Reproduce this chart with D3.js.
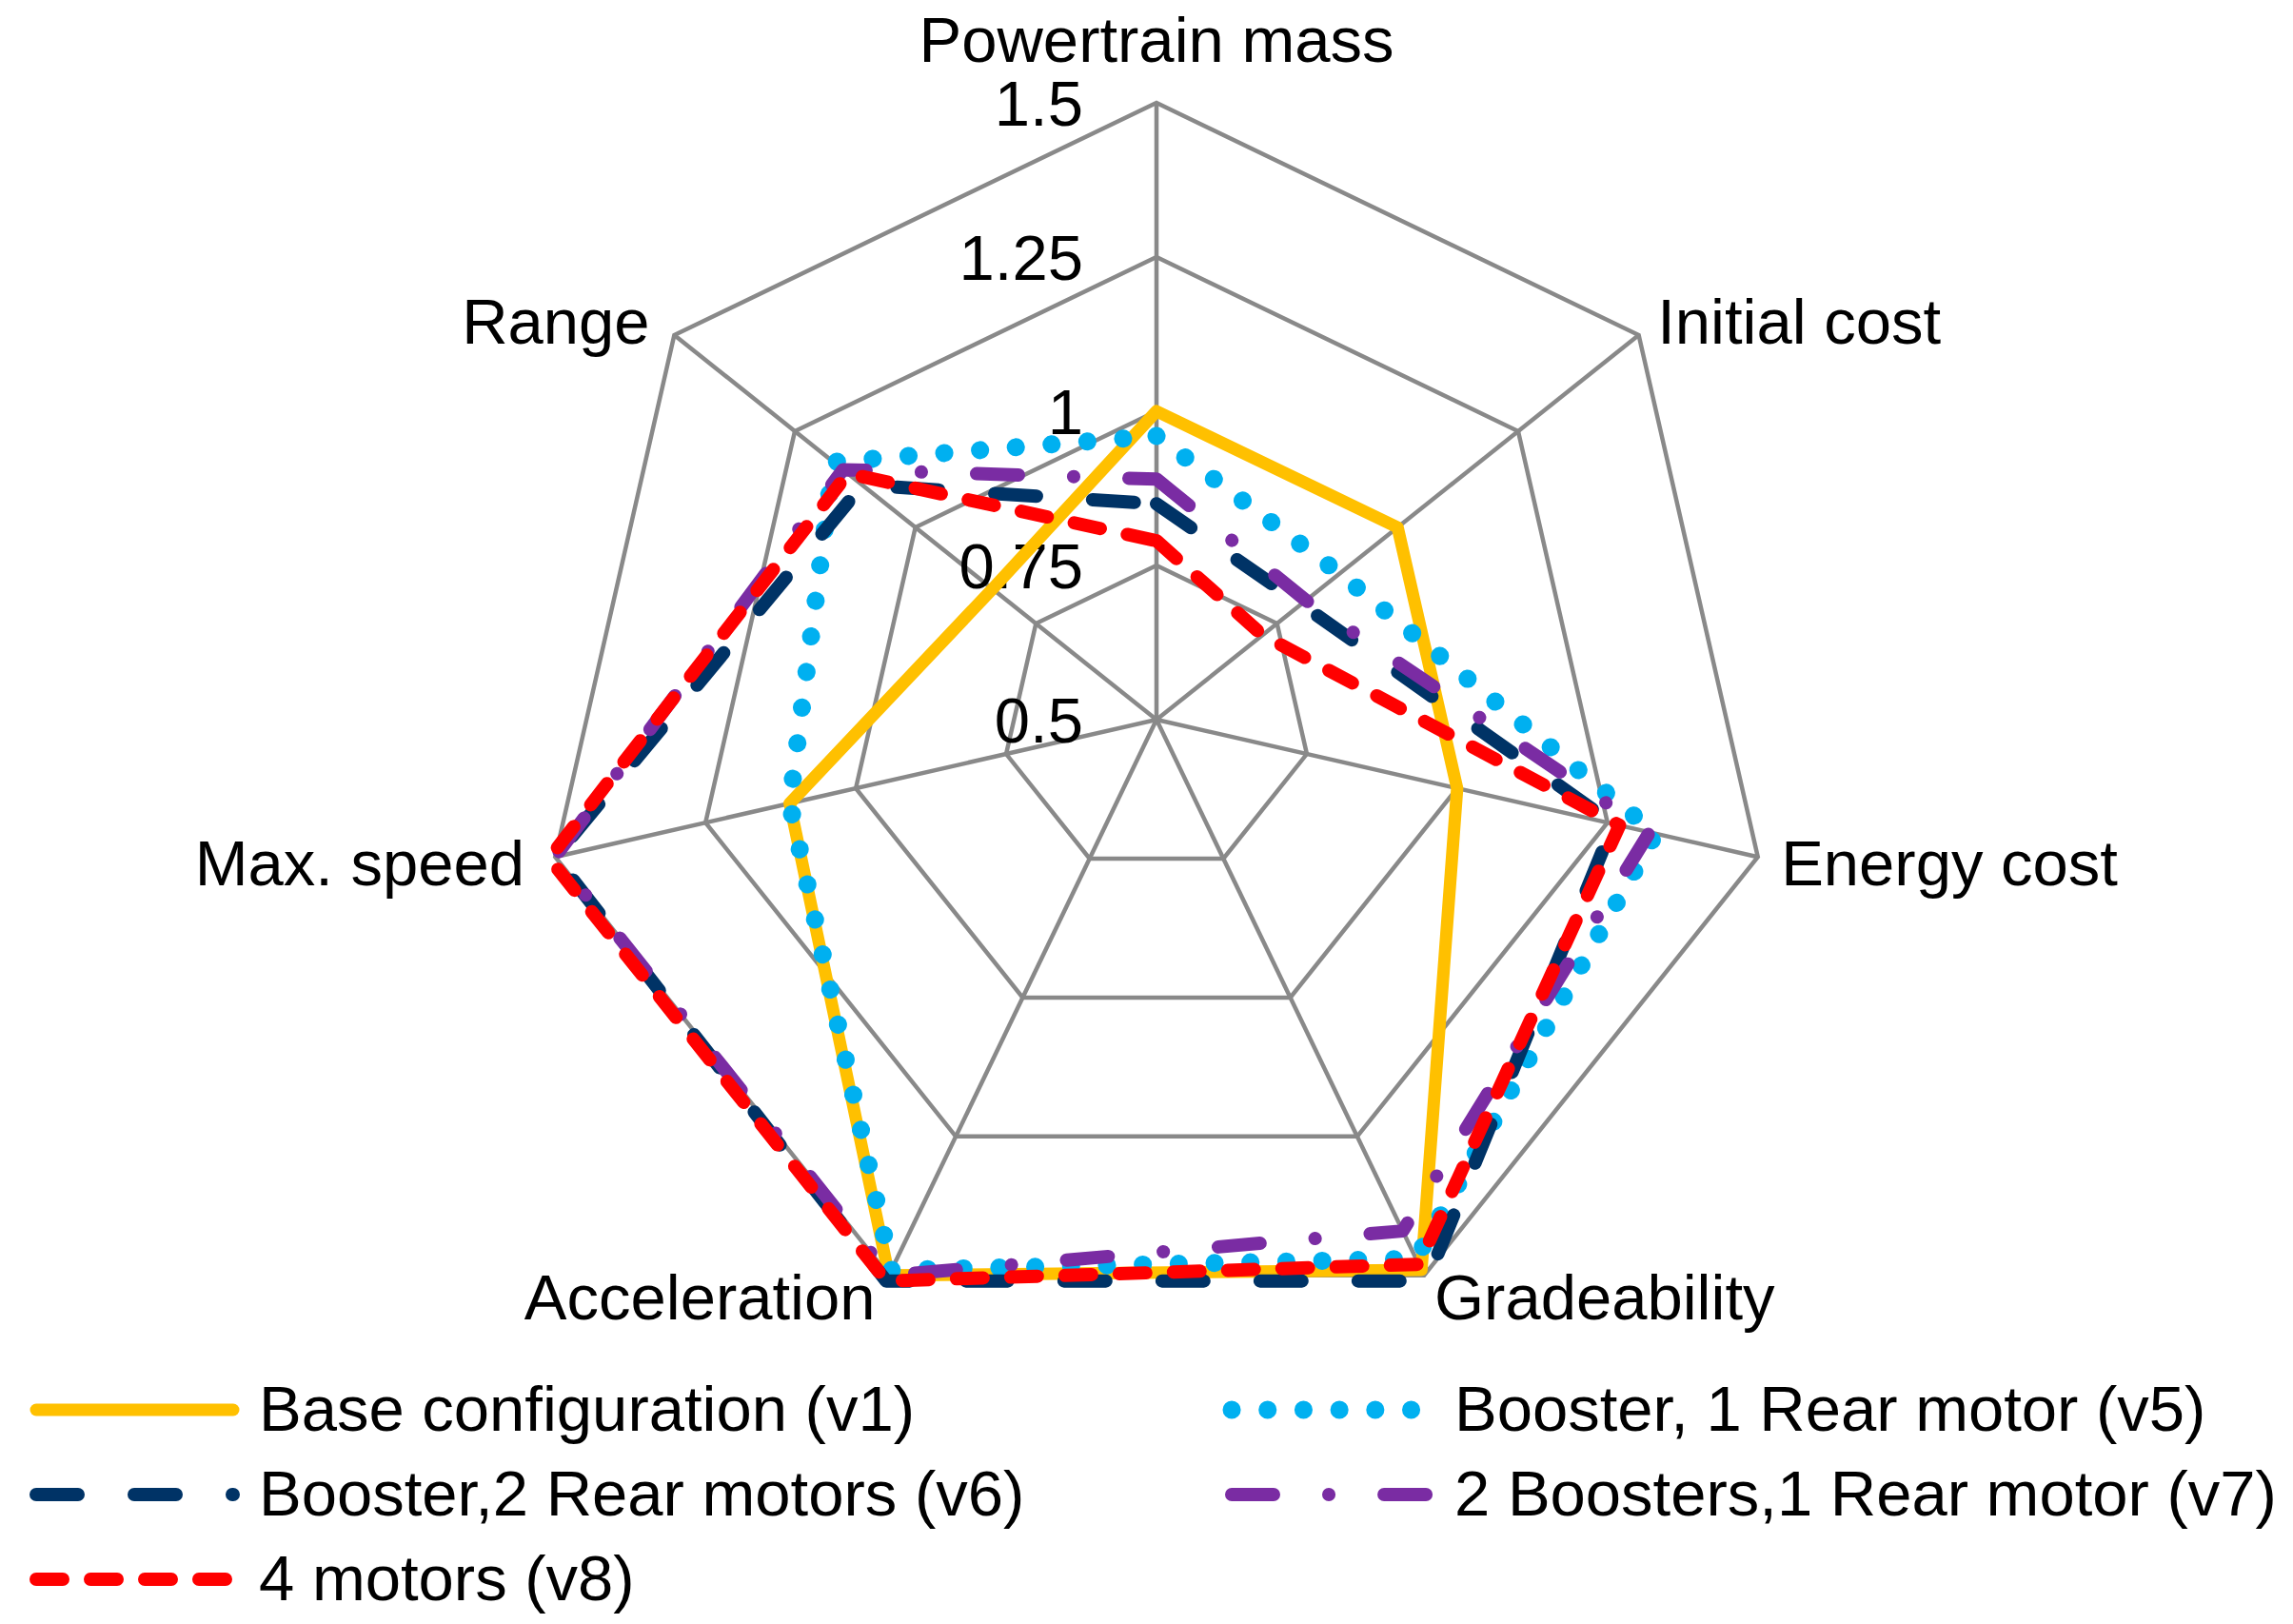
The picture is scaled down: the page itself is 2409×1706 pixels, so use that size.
<!DOCTYPE html>
<html>
<head>
<meta charset="utf-8">
<script src="https://cdn.jsdelivr.net/npm/d3@7"></script>
<style>
  body { margin: 0; background: #fff; }
  text { font-family: "Liberation Sans", Arial, sans-serif; fill: #000; }
</style>
</head>
<body>
<div id="chart"></div>
<script>
// axes of the radar, clockwise from the top
var axes = ["Powertrain mass", "Initial cost", "Energy cost", "Gradeability", "Acceleration", "Max. speed", "Range"];
var ticks = [0.5, 0.75, 1, 1.25, 1.5];

var seriesNames = ["Base configuration (v1)", "Booster, 1 Rear motor (v5)", "Booster,2 Rear motors (v6)", "2 Boosters,1 Rear motor (v7)", "4 motors (v8)"];
var v1 = [1.0, 1.0, 1.0, 1.49, 1.5, 1.11, 0.84];
var v5 = [0.96, 0.88, 1.33, 1.47, 1.49, 1.11, 1.17];
var v6 = [0.85, 0.80, 1.26, 1.51, 1.51, 1.5, 1.11];
var v7 = [0.89, 0.81, 1.32, 1.42, 1.5, 1.5, 1.15];
var v8 = [0.79, 0.72, 1.27, 1.48, 1.51, 1.51, 1.14];

var svgWidth = 2409;
var svgHeight = 1706;
var cx = 1215, cy = 756, outerR = 648;

var svg = d3.select("#chart")
    .append("svg")
    .attr("width", svgWidth)
    .attr("height", svgHeight);

svg.append("rect").attr("width", svgWidth).attr("height", svgHeight).attr("fill", "#fff");

var rScale = d3.scaleLinear().domain([0.5, 1.5]).range([0, outerR]);
var step = 2 * Math.PI / axes.length;

var chartGroup = svg.append("g")
    .attr("transform", `translate(${cx}, ${cy})`);

var radial = d3.lineRadial()
    .angle(function (d, i) { return i * step; })
    .radius(function (d) { return rScale(d); })
    .curve(d3.curveLinearClosed);

// grid rings
ticks.slice(1).forEach(function (t) {
    chartGroup.append("path")
        .attr("d", radial(axes.map(function () { return t; })))
        .attr("fill", "none")
        .attr("stroke", "#898989")
        .attr("stroke-width", 4.5);
});

// spokes
chartGroup.selectAll(".spoke")
    .data(axes)
    .enter()
    .append("line")
    .attr("x1", 0).attr("y1", 0)
    .attr("x2", function (d, i) { return rScale(1.5) * Math.sin(i * step); })
    .attr("y2", function (d, i) { return -rScale(1.5) * Math.cos(i * step); })
    .attr("stroke", "#898989")
    .attr("stroke-width", 4.5);

// tick labels
chartGroup.selectAll(".tick")
    .data(ticks)
    .enter()
    .append("text")
    .attr("x", -77)
    .attr("y", function (d) { return -rScale(d); })
    .attr("dy", "0.36em")
    .attr("text-anchor", "end")
    .attr("font-size", "67px")
    .text(function (d) { return d; });

// axis labels
chartGroup.selectAll(".axisLabel")
    .data(axes)
    .enter()
    .append("text")
    .attr("font-size", "67px")
    .attr("x", function (d, i) {
        var s = Math.sin(i * step);
        var pad = s < -0.1 ? 33 : 25;
        return (outerR + pad) * s;
    })
    .attr("y", function (d, i) {
        var y = -(outerR + 25) * Math.cos(i * step);
        return i === 0 ? y - 18 : y;
    })
    .attr("dy", function (d, i) { return i === 0 ? "0" : "0.36em"; })
    .attr("text-anchor", function (d, i) {
        var s = Math.sin(i * step);
        return Math.abs(s) < 0.1 ? "middle" : (s > 0 ? "start" : "end");
    })
    .text(function (d) { return d; });

// series styles
var styles = [
    { color: "#FFC000", width: 13, dash: null },
    { color: "#00B0F0", width: 19, dash: "0.1,37.6" },
    { color: "#003366", width: 14, dash: "44,59" },
    { color: "#7A2CA3", width: 14, dash: "44,58,0.1,58" },
    { color: "#FF0000", width: 14, dash: "28,29" }
];
var allSeries = [v1, v5, v6, v7, v8];

allSeries.forEach(function (vals, k) {
    chartGroup.append("path")
        .attr("d", radial(vals))
        .attr("fill", "none")
        .attr("stroke", styles[k].color)
        .attr("stroke-width", styles[k].width)
        .attr("stroke-linecap", "round")
        .attr("stroke-linejoin", "round")
        .attr("stroke-dasharray", styles[k].dash);
});

// legend
var legendX = [31, 1287];
var legendY = [1481, 1570, 1659];
var legendPos = [[0, 0], [1, 0], [0, 1], [1, 1], [0, 2]];

seriesNames.forEach(function (name, k) {
    var x0 = legendX[legendPos[k][0]];
    var y0 = legendY[legendPos[k][1]];
    svg.append("line")
        .attr("x1", x0 + 7).attr("x2", x0 + 214)
        .attr("y1", y0).attr("y2", y0)
        .attr("stroke", styles[k].color)
        .attr("stroke-width", styles[k].width)
        .attr("stroke-linecap", "round")
        .attr("stroke-dasharray", styles[k].dash);
    svg.append("text")
        .attr("x", x0 + 241)
        .attr("y", y0)
        .attr("dy", "0.33em")
        .attr("font-size", "67px")
        .text(name);
});
</script>
</body>
</html>
